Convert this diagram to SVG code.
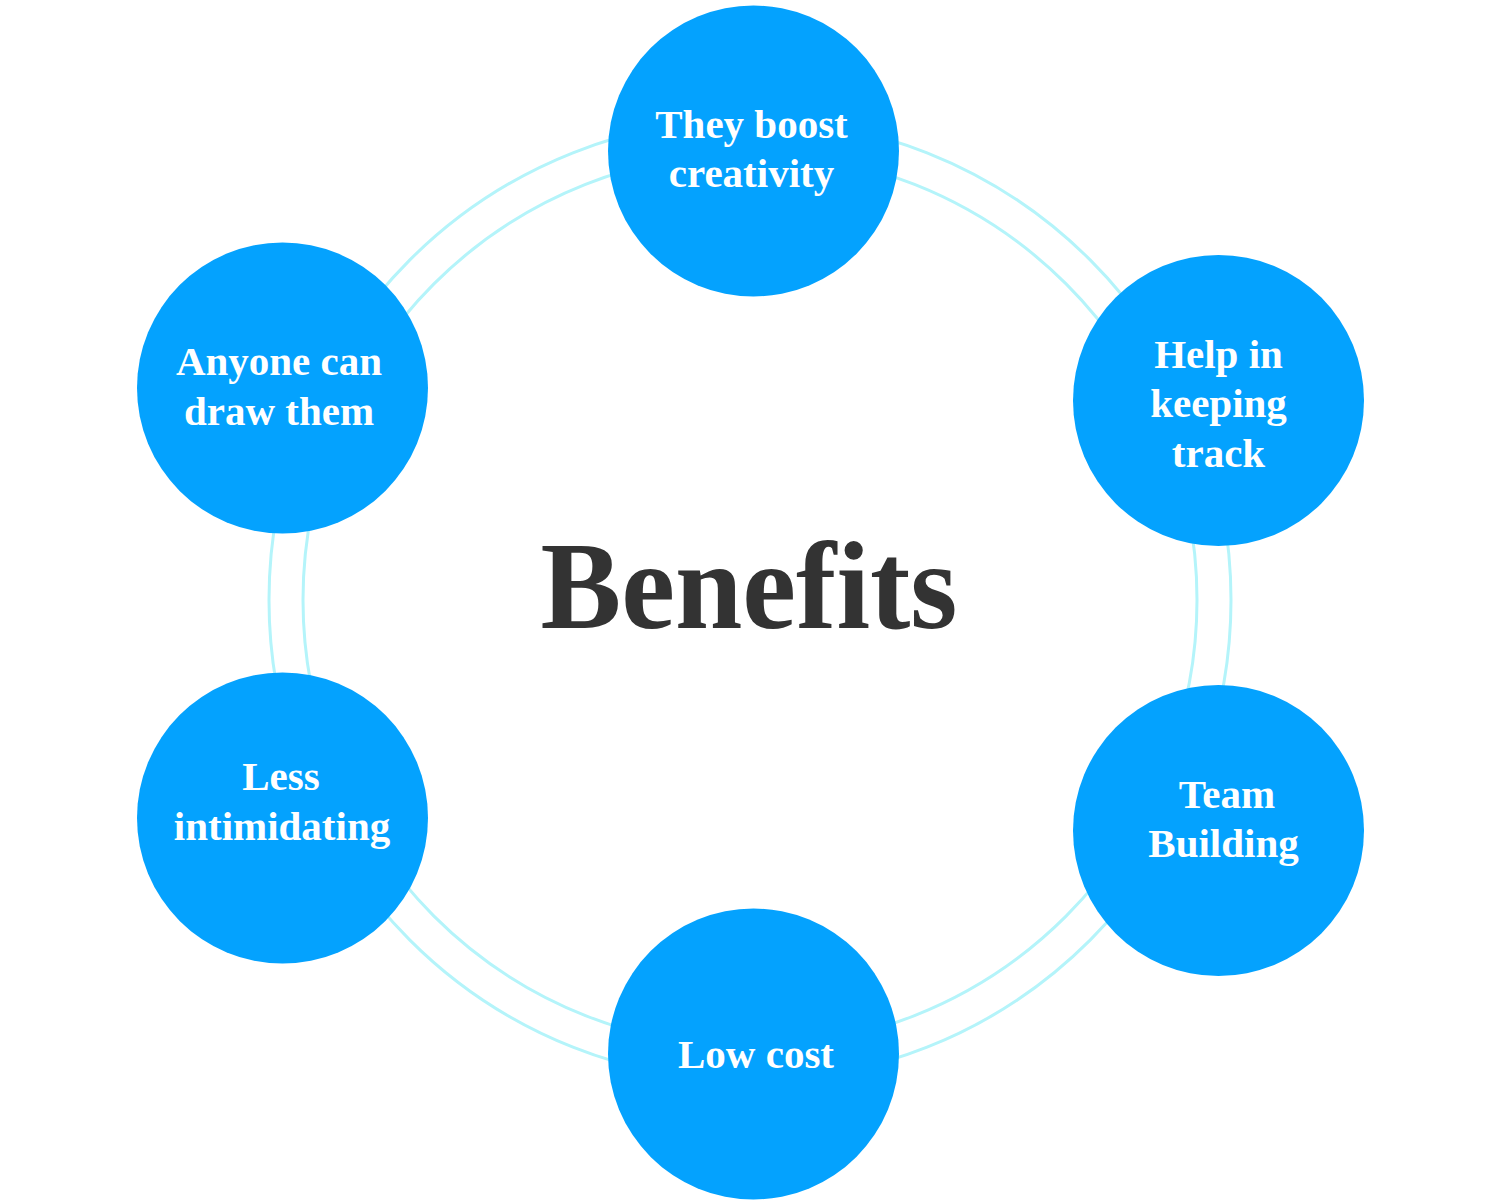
<svg xmlns="http://www.w3.org/2000/svg" width="1500" height="1200" viewBox="0 0 1500 1200">
<style>
.ring{fill:none;stroke:#b4f4fa;stroke-width:3}
.node{fill:#04a2fe}
.lbl{font-family:"Liberation Serif","Times New Roman",serif;font-weight:bold;font-size:41px;fill:#ffffff;text-anchor:middle}
.title{font-family:"Liberation Serif","Times New Roman",serif;font-weight:bold;font-size:124px;fill:#333333;text-anchor:middle}
</style>
<rect width="1500" height="1200" fill="#ffffff"/>
<g id="connectors">
<circle class="ring" cx="750" cy="600" r="481"/>
<circle class="ring" cx="750" cy="600" r="447"/>
</g>
<g id="title">
<text class="title" x="749" y="628" textLength="417" lengthAdjust="spacingAndGlyphs">Benefits</text>
</g>
<g id="node-creativity">
<circle class="node" cx="753.5" cy="151" r="145.5"/>
<text class="lbl" x="751.5" y="138">They boost</text>
<text class="lbl" x="751.5" y="187">creativity</text>
</g>
<g id="node-track">
<circle class="node" cx="1218.5" cy="400.5" r="145.5"/>
<text class="lbl" x="1218.5" y="368">Help in</text>
<text class="lbl" x="1218.5" y="417">keeping</text>
<text class="lbl" x="1218.5" y="467">track</text>
</g>
<g id="node-team">
<circle class="node" cx="1218.5" cy="830.5" r="145.5"/>
<text class="lbl" x="1227" y="808">Team</text>
<text class="lbl" x="1223.5" y="857">Building</text>
</g>
<g id="node-cost">
<circle class="node" cx="753.5" cy="1054" r="145.5"/>
<text class="lbl" x="756" y="1068">Low cost</text>
</g>
<g id="node-intimidating">
<circle class="node" cx="282.5" cy="818" r="145.5"/>
<text class="lbl" x="281" y="790">Less</text>
<text class="lbl" x="282" y="840">intimidating</text>
</g>
<g id="node-anyone">
<circle class="node" cx="282.5" cy="388" r="145.5"/>
<text class="lbl" x="279" y="375">Anyone can</text>
<text class="lbl" x="279" y="425">draw them</text>
</g>
</svg>
